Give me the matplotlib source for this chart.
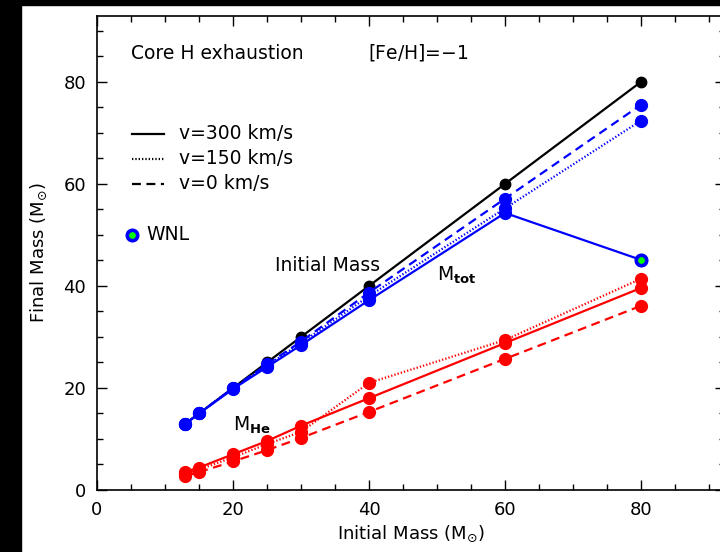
import matplotlib.pyplot as plt
from matplotlib.patches import Rectangle
from matplotlib.ticker import MultipleLocator

plt.rcParams['font.family'] = ['DejaVu Sans']
plt.rcParams['mathtext.fontset'] = 'dejavusans'

# initial masses of the models
m_init = [13, 15, 20, 25, 30, 40, 60, 80]

# total mass at core H exhaustion
mtot_v300 = [12.9, 15.0, 19.8, 24.1, 28.4, 37.2, 54.3, 45.1]
mtot_v150 = [13.0, 15.0, 19.9, 24.4, 28.8, 38.0, 55.2, 72.4]
mtot_v0 = [13.0, 15.0, 20.0, 24.6, 29.1, 38.7, 57.1, 75.5]

# helium core mass
mhe_v300 = [3.6, 4.4, 7.0, 9.6, 12.6, 18.0, 28.8, 39.6]
mhe_v150 = [3.2, 4.0, 6.4, 9.0, 11.4, 21.0, 29.4, 41.4]
mhe_v0 = [2.7, 3.5, 5.6, 7.8, 10.2, 15.3, 25.7, 36.1]

wnl_mass = [80]
wnl_final = [45.1]

fig = plt.figure(figsize=(7.2, 5.52), dpi=100)
ax = fig.add_axes([97 / 720, 62 / 552, 628 / 720, 474 / 552])

lw = 1.6
ms = 8.5
ax.plot(m_init, m_init, color='black', lw=lw, marker='o', ms=7.5, zorder=2)

ax.plot(m_init, mtot_v0, color='blue', lw=lw, ls=(0, (4, 2.5)), marker='o', ms=ms, zorder=3)
ax.plot(m_init, mtot_v150, color='blue', lw=lw, ls=(0, (0.6, 0.9)), marker='o', ms=ms, zorder=3)
ax.plot(m_init, mtot_v300, color='blue', lw=lw, ls='-', marker='o', ms=ms, zorder=3)
ax.plot(wnl_mass, wnl_final, ls='none', marker='o', ms=7.5, mfc='lime', mec='blue', mew=2.6, zorder=4)

ax.plot(m_init, mhe_v0, color='red', lw=lw, ls=(0, (4, 2.5)), marker='o', ms=ms, zorder=3)
ax.plot(m_init, mhe_v150, color='red', lw=lw, ls=(0, (0.6, 0.9)), marker='o', ms=ms, zorder=3)
ax.plot(m_init, mhe_v300, color='red', lw=lw, ls='-', marker='o', ms=ms, zorder=3)

ax.set_xlim(0, 92.35)
ax.set_ylim(0, 92.9)
ax.xaxis.set_major_locator(MultipleLocator(20))
ax.xaxis.set_minor_locator(MultipleLocator(5))
ax.yaxis.set_major_locator(MultipleLocator(20))
ax.yaxis.set_minor_locator(MultipleLocator(5))
ax.tick_params(which='both', direction='in', top=True, right=True, labelsize=13, width=1)
ax.tick_params(which='major', length=7.5, pad=8)
ax.tick_params(which='minor', length=4)
for s in ax.spines.values():
    s.set_linewidth(1.2)

ax.set_xlabel(r'Initial Mass (M$_{\odot}$)', fontsize=13, labelpad=3)
ax.set_ylabel(r'Final Mass (M$_{\odot}$)', fontsize=13, labelpad=10)

fs = 13.5
ax.text(5, 84.5, 'Core H exhaustion', fontsize=fs)
ax.text(39.8, 84.5, '[Fe/H]=$-$1', fontsize=fs)

# line style key
key_y = [69.8, 64.9, 60.0]
key_ls = ['-', (0, (0.6, 0.9)), (0, (4, 2.5))]
key_txt = ['v=300 km/s', 'v=150 km/s', 'v=0 km/s']
for yk, lsk, tk in zip(key_y, key_ls, key_txt):
    ax.plot([5.1, 9.8], [yk, yk], color='black', lw=lw, ls=lsk)
    ax.text(12, yk, tk, fontsize=fs, va='center')

ax.plot([5.1], [50.0], ls='none', marker='o', ms=7.5, mfc='lime', mec='blue', mew=2.6)
ax.text(7.3, 50.0, 'WNL', fontsize=fs, va='center')

ax.text(26.2, 44.0, 'Initial Mass', fontsize=fs, va='center')
ax.text(50, 42.0, r'M$_{\mathbf{tot}}$', fontsize=fs, va='center')
ax.text(20, 12.6, r'M$_{\mathbf{He}}$', fontsize=fs, va='center')

# dark borders along the left and top edges
fig.patches.append(Rectangle((0, 0), 21 / 720, 1, transform=fig.transFigure, color='black', zorder=10))
fig.patches.append(Rectangle((0, 1 - 5 / 552), 1, 5 / 552, transform=fig.transFigure, color='black', zorder=10))

fig.savefig('out.png', dpi=100)
